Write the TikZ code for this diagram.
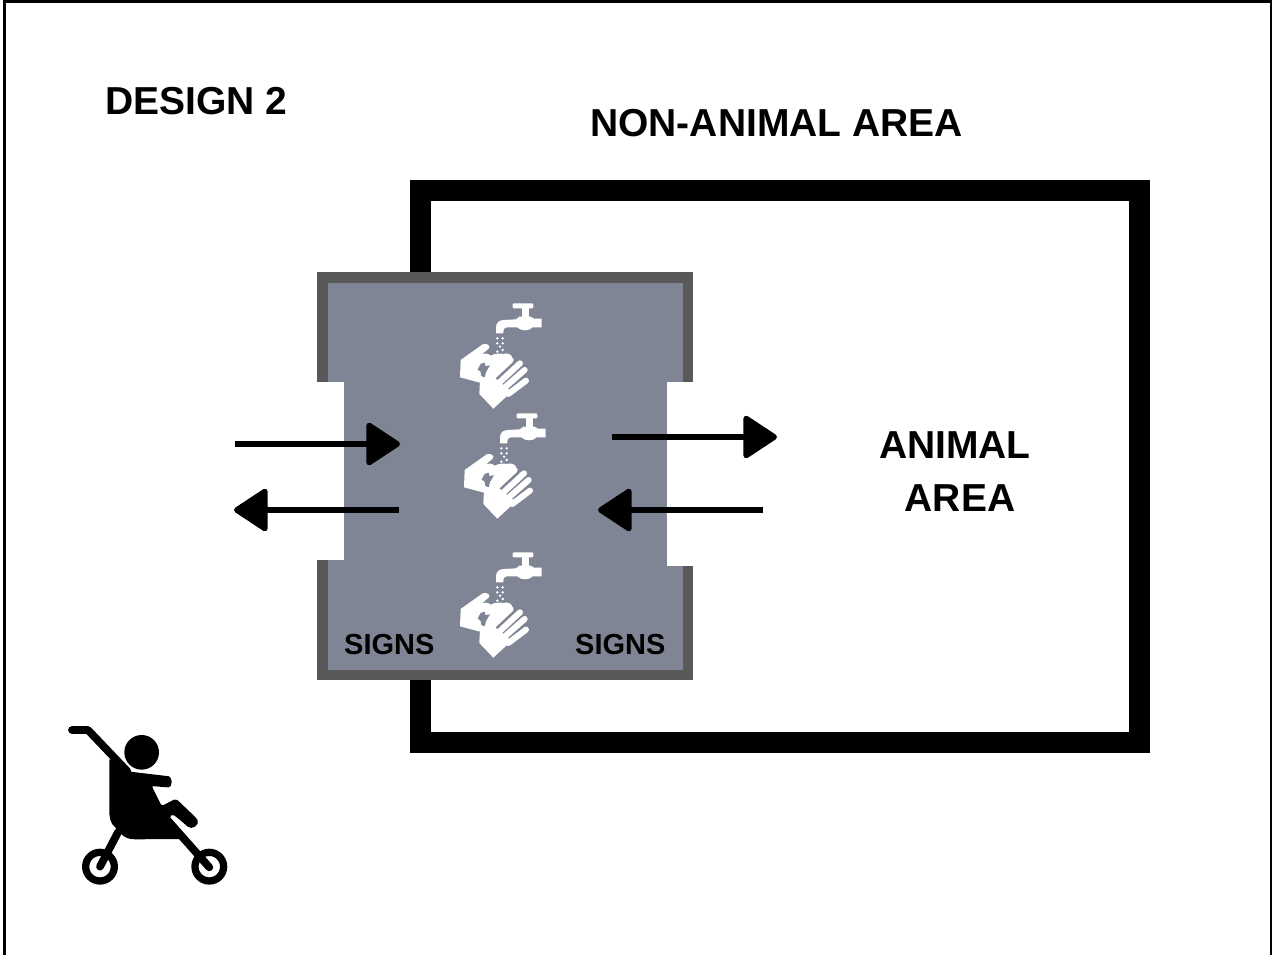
\documentclass[tikz,border=0pt]{standalone}
\usepackage{fontspec}
\setmainfont{Liberation Sans}
\usetikzlibrary{arrows.meta}
\definecolor{panelgrey}{HTML}{7F8595}
\definecolor{paneledge}{HTML}{595959}
\tikzset{
  x=1pt,y=-1pt,
  label text/.style={font=\bfseries\fontsize{39}{39}\selectfont,anchor=base west,inner sep=0pt,text=black},
  sign text/.style={font=\bfseries\fontsize{29}{29}\selectfont,anchor=base west,inner sep=0pt,text=black},
  wall/.style={draw=black,line width=21pt,miter limit=10},
  edge/.style={draw=paneledge,line width=10.5pt,line cap=butt,line join=miter},
  flow/.style={draw=black,line width=5.5pt,-{Triangle[length=36pt,width=46pt,round,line join=round]}},
  whitefinger/.style={draw=white,line width=6pt,line cap=round},
  strut/.style={draw=black,line width=7.8pt,line cap=round,line join=round},
  wheel/.style={draw=black,line width=7.3pt},
}
\newcommand{\washicon}[2]{%
\begin{scope}[shift={(#1,#2)},x=0.3333pt,y=-0.3333pt]
 % faucet
 \fill[white,rounded corners=1pt] (218,40) rectangle (280,55);
 \fill[white] (245,50) rectangle (268,88);
 \fill[white] (168,130) -- (168,112) .. controls (168,98) and (178,90) .. (192,90)
   -- (228,88) -- (238,80) -- (272,80) -- (282,86) -- (305,86) -- (305,112) -- (278,112)
   .. controls (268,124) and (242,124) .. (232,112) -- (200,112)
   .. controls (192,112) and (190,118) .. (190,130) -- cycle;
 \foreach \dx/\dy in {172/145,188/145,172/160,188/160,180/170,172/185,188/180}
   \fill[white] (\dx,\dy) circle[radius=4];
 % back hand with foam
 \fill[white] (62,210) -- (128,163) .. controls (140,158) and (154,168) .. (146,176) -- (122,196)
   .. controls (132,188) and (145,190) .. (152,197) .. controls (165,190) and (180,190) .. (190,192)
   .. controls (200,188) and (212,192) .. (216,200) -- (200,225) -- (150,262) -- (120,278) -- (60,262) -- cycle;
 \fill[panelgrey] (113,238) -- (122,222) -- (134,218) -- (136,228) -- (150,226) -- (138,246)
   -- (134,262) -- (124,258) -- (122,246) -- cycle;
 % front hand
 \fill[white] (118,312) -- (120,272) -- (150,252) -- (215,305) -- (160,356) -- cycle;
 \draw[whitefinger] (150,268) -- (212,210);
 \draw[whitefinger] (170,285) -- (240,220);
 \draw[whitefinger] (188,298) -- (254,240);
 \draw[whitefinger] (205,312) -- (258,272);
\end{scope}}
\begin{document}
\begin{tikzpicture}
\useasboundingbox (0,0) rectangle (1273,955);
% page frame
\fill[black] (3.4,0) rectangle (6.4,955);
\fill[black] (3.4,0) rectangle (1272.4,2.8);
\fill[black] (1270.4,0) rectangle (1272.4,955);
% animal area wall
\draw[wall] (420.5,190.5) rectangle (1139.5,742.5);
% panel
\fill[panelgrey] (322,277) -- (688,277) -- (688,382) -- (667,382) -- (667,566) -- (688,566)
  -- (688,675) -- (322,675) -- (322,560) -- (344,560) -- (344,382) -- (322,382) -- cycle;
\fill[white] (317,382) rectangle (344,560);
\fill[white] (667,382) rectangle (694,566);
\draw[edge] (322.5,382) -- (322.5,277.5) -- (688,277.5) -- (688,382);
\draw[edge] (322.5,560) -- (322.5,675) -- (688,675) -- (688,566);
% icons
\washicon{440}{290}
\washicon{444}{400}
\washicon{440}{539}
% arrows
\coordinate (a1s) at (235,444); \coordinate (a1e) at (400,444);
\coordinate (a2s) at (399,510); \coordinate (a2e) at (234,510);
\coordinate (a3s) at (612,437); \coordinate (a3e) at (777,437);
\coordinate (a4s) at (763,510); \coordinate (a4e) at (598,510);
\draw[flow] (a1s) -- (a1e);
\draw[flow] (a2s) -- (a2e);
\draw[flow] (a3s) -- (a3e);
\draw[flow] (a4s) -- (a4e);
% labels
\node[label text] (design) at (105,114) {DESIGN 2};
\node[label text] (nonanimal) at (590,136) {NON-ANIMAL AREA};
\node[label text,anchor=base] (animal) at (955,458) {ANIMAL};
\node[label text,anchor=base] (area) at (960,511) {AREA};
\node[sign text] (signl) at (344,654) {SIGNS};
\node[sign text] (signr) at (575,654) {SIGNS};
% stroller
\begin{scope}[shift={(50,710)},x=0.3333pt,y=-0.3333pt]
 \fill[black] (275,127) circle[radius=52];
 \draw[strut] (66,60) -- (114,60) -- (232,184);
 \fill[black,rounded corners=2pt] (178,145) -- (240,185) -- (350,198)
   .. controls (368,200) and (368,232) .. (350,232) -- (305,228) -- (335,288) -- (378,266)
   -- (440,325) .. controls (450,345) and (425,362) .. (408,345) -- (368,312) -- (358,320)
   -- (392,387) -- (250,388) .. controls (225,385) and (215,375) .. (200,355)
   .. controls (180,340) and (178,320) .. (178,295) -- cycle;
 \draw[strut] (205,365) -- (150,470);
 \draw[strut] (352,330) -- (478,472);
 \draw[wheel] (150,470) circle[radius=43];
 \draw[wheel] (478,470) circle[radius=43];
\end{scope}
\end{tikzpicture}
\end{document}
